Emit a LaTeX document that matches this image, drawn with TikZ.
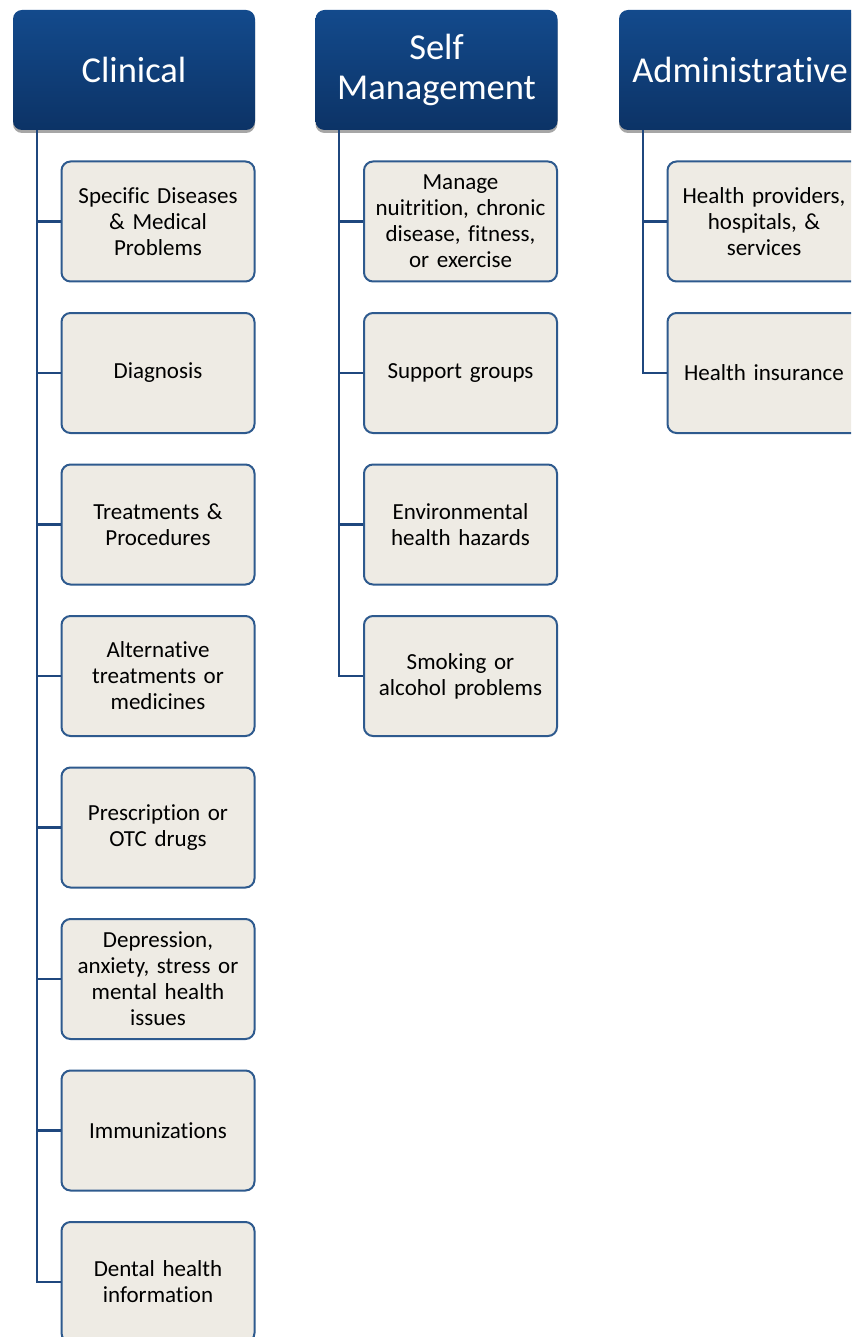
\documentclass[tikz,border=0pt]{standalone}
\usepackage{fontspec}
\setmainfont{Carlito}[Ligatures=CommonOff]
\usetikzlibrary{shadows}
\definecolor{hdtop}{HTML}{134A8C}
\definecolor{hdbot}{HTML}{0C3366}
\definecolor{boxfill}{HTML}{EEEBE4}
\definecolor{boxline}{HTML}{2E5A8E}
\definecolor{linkcol}{HTML}{1F477E}
\tikzset{
  header/.style={rounded corners=9pt, top color=hdtop, bottom color=hdbot, draw=none,
    minimum width=242pt, minimum height=120pt, text width=236pt, align=center,
    text=white, font=\fontsize{36.5}{40}\selectfont, inner sep=0pt,
    drop shadow={shadow xshift=0pt, shadow yshift=-3pt, opacity=0.35, fill=black}},
  child/.style={rounded corners=9pt, fill=boxfill, draw=boxline, line width=2pt,
    minimum width=193pt, minimum height=120pt, text width=186pt, align=center,
    text=black, font=\fontsize{23}{26}\selectfont, inner sep=0pt},
  link/.style={draw=linkcol, line width=2.2pt}
}
\begin{document}
\begin{tikzpicture}[x=1pt,y=-1pt]
\useasboundingbox (0,0) rectangle (851,1337);
\clip (0,0) rectangle (851,1337);
% headers
\node[header] (clin) at (134,70) {Clinical};
\node[header] (self) at (436.5,70) {Self\\Management};
\node[header] (admin) at (740,70) {Administrative};
% clinical children
\node[child] (c1) at (158,221.5) {Specific Diseases\\\& Medical\\Problems};
\node[child] (c2) at (158,373) {Diagnosis};
\node[child] (c3) at (158,524.5) {Treatments \&\\Procedures};
\node[child] (c4) at (158,676) {Alternative\\treatments or\\medicines};
\node[child] (c5) at (158,827.5) {Prescription or\\OTC drugs};
\node[child] (c6) at (158,979) {Depression,\\anxiety, stress or\\mental health\\issues};
\node[child] (c7) at (158,1130.5) {Immunizations};
\node[child] (c8) at (158,1282) {Dental health\\information};
% self management children
\node[child] (s1) at (460.5,221.5) {Manage\\nuitrition, chronic\\disease, fitness,\\or exercise};
\node[child] (s2) at (460.5,373) {Support groups};
\node[child] (s3) at (460.5,524.5) {Environmental\\health hazards};
\node[child] (s4) at (460.5,676) {Smoking or\\alcohol problems};
% administrative children
\node[child] (a1) at (764,221.5) {Health providers,\\hospitals, \&\\services};
\node[child] (a2) at (764,373) {Health insurance};
% connectors
\coordinate (clinroot) at ([xshift=24pt]clin.south west);
\coordinate (selfroot) at ([xshift=24pt]self.south west);
\coordinate (adminroot) at ([xshift=24pt]admin.south west);
\draw[link] (clinroot) |- (c8.west);
\foreach \n in {c1,c2,c3,c4,c5,c6,c7}{\draw[link] (clinroot |- \n.west) -- (\n.west);}
\draw[link] (selfroot) |- (s4.west);
\foreach \n in {s1,s2,s3}{\draw[link] (selfroot |- \n.west) -- (\n.west);}
\draw[link] (adminroot) |- (a2.west);
\draw[link] (adminroot |- a1.west) -- (a1.west);
\end{tikzpicture}
\end{document}
